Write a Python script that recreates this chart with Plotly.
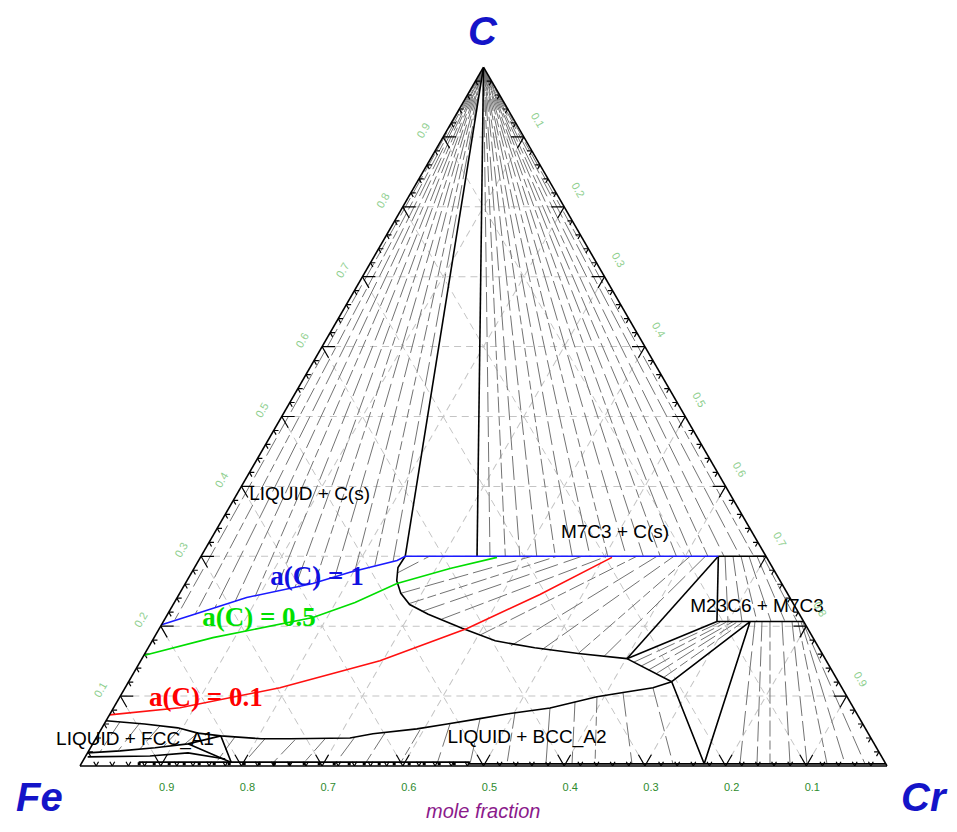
import plotly.graph_objects as go

# ---------------- data: compositions as (x_C, x_Cr); x_Fe = 1 - x_C - x_Cr ----------------
# carbon iso-activity lines
ac_1 = [(0.202, 0.000), (0.2195, 0.039), (0.241, 0.086), (0.261, 0.158), (0.277, 0.196),
        (0.294, 0.246), (0.300, 0.253), (0.300, 0.342), (0.300, 0.641)]
ac_05 = [(0.158, 0.000), (0.1836, 0.073), (0.2123, 0.1825), (0.2339, 0.2239), (0.2611, 0.2622),
         (0.2826, 0.3172), (0.2984, 0.3675)]
ac_01 = [(0.073, 0.000), (0.0832, 0.0823), (0.1119, 0.1918), (0.1506, 0.2964), (0.1966, 0.3813),
         (0.2453, 0.4473), (0.2984, 0.5100)]

# phase boundaries
liq_m7c3 = [(0.300, 0.253), (0.284, 0.252), (0.265, 0.260), (0.247, 0.274), (0.231, 0.293),
            (0.217, 0.323), (0.197, 0.375), (0.179, 0.425), (0.169, 0.479), (0.161, 0.537),
            (0.1535, 0.601)]
liq_m23 = [(0.1535, 0.601), (0.1205, 0.673)]
liq_bcc_fcc = [(0.1205, 0.673), (0.112, 0.654), (0.105, 0.6205), (0.099, 0.591), (0.083, 0.541),
               (0.075, 0.4955), (0.067, 0.458), (0.060, 0.425), (0.053, 0.391), (0.046, 0.340),
               (0.040, 0.3145), (0.039, 0.241), (0.039, 0.205), (0.043, 0.153), (0.047, 0.1225),
               (0.0545, 0.094), (0.060, 0.050), (0.0646, 0.000)]
fcc_solidus = [(0.0187, 0.000), (0.0215, 0.039), (0.026, 0.080), (0.0316, 0.118), (0.043, 0.153)]
fcc_bcc = [(0.013, 0.003), (0.0143, 0.0795), (0.0187, 0.1245), (0.010, 0.175)]
tri_fcc_bcc = [(0.0316, 0.118), (0.005, 0.185), (0.043, 0.153)]
c_liq = [(1.0, 0.0), (0.300, 0.253)]
c_m7c3 = [(1.0, 0.0), (0.300, 0.342)]
m7c3_edge = [(0.300, 0.641), (0.300, 0.700)]
m7_m23 = [(0.300, 0.641), (0.2066, 0.686)]
m23c6_line = [(0.2066, 0.686), (0.2066, 0.7934)]
liq_m7 = [(0.1535, 0.601), (0.300, 0.641)]
liq_m23b = [(0.1535, 0.601), (0.2066, 0.686)]
tri_liq_m23_bcc = [(0.1205, 0.673), (0.2066, 0.727), (0.003, 0.772), (0.1205, 0.673)]
bcc_low_upper = [(0.0055, 0.07), (0.0055, 0.48)]
bcc_low_bars = [(0.003, 0.07), (0.003, 0.48)]
bcc_low_solid = [(0.003, 0.48), (0.003, 0.997)]

# tie-lines: (end 1, end 2)
liq_c_ends = [(0.2095, 0.013), (0.2166, 0.0342), (0.2267, 0.054), (0.2353, 0.0745), (0.2425, 0.0957),
              (0.2482, 0.1175), (0.2554, 0.1387), (0.2626, 0.1599), (0.2712, 0.1804), (0.2798, 0.2009),
              (0.2869, 0.222), (0.2927, 0.2416)]
m7c3_c_ends = [0.358, 0.377, 0.395, 0.416, 0.439, 0.460, 0.482, 0.504, 0.527, 0.548, 0.569,
               0.589, 0.608, 0.628, 0.648, 0.668, 0.685]
liq_m7c3_ties = [((0.276, 0.255), (0.300, 0.283)), ((0.247, 0.274), (0.300, 0.410)),
                 ((0.232, 0.291), (0.300, 0.441)), ((0.221, 0.313), (0.300, 0.472)),
                 ((0.210, 0.343), (0.300, 0.503)), ((0.188, 0.403), (0.300, 0.540)),
                 ((0.172, 0.448), (0.300, 0.565)), ((0.166, 0.489), (0.300, 0.586)),
                 ((0.161, 0.537), (0.300, 0.606)), ((0.157, 0.571), (0.300, 0.625))]
liq_m23_ties = [((0.1485, 0.612), (0.2066, 0.692)), ((0.1430, 0.624), (0.2066, 0.699)),
                ((0.1375, 0.636), (0.2066, 0.706)), ((0.1320, 0.648), (0.2066, 0.712)),
                ((0.1266, 0.660), (0.2066, 0.719))]
m7_m23_ties = [((0.300, 0.6493), (0.2066, 0.6997)), ((0.300, 0.6592), (0.2066, 0.717)),
               ((0.300, 0.6691), (0.2066, 0.7356)), ((0.300, 0.679), (0.2066, 0.753)),
               ((0.300, 0.6889), (0.2066, 0.7703)), ((0.300, 0.6963), (0.2066, 0.7852))]
m23_bcc_ties = [((0.2066, 0.7331), (0.003, 0.8163)), ((0.2066, 0.7418), (0.003, 0.8374)),
                ((0.2066, 0.7517), (0.003, 0.8535)), ((0.2066, 0.7666), (0.003, 0.8783)),
                ((0.2066, 0.779), (0.003, 0.8994)), ((0.2066, 0.7864), (0.003, 0.9242)),
                ((0.2066, 0.7901), (0.003, 0.9465)), ((0.2066, 0.792), (0.003, 0.9712))]
liq_bcc_ties = [((0.0416, 0.1713), (0.003, 0.1658)), ((0.0387, 0.2098), (0.003, 0.2005)),
                ((0.0373, 0.2477), (0.003, 0.2364)), ((0.0387, 0.2842), (0.003, 0.2748)),
                ((0.0416, 0.320), (0.003, 0.3145)), ((0.0473, 0.3542), (0.003, 0.3517)),
                ((0.0516, 0.3955), (0.003, 0.395)), ((0.0603, 0.4284), (0.003, 0.4409)),
                ((0.0674, 0.462), (0.003, 0.4818)), ((0.076, 0.501), (0.003, 0.5276)),
                ((0.0832, 0.5408), (0.003, 0.5759)), ((0.0918, 0.5675), (0.003, 0.6082)),
                ((0.099, 0.5911), (0.003, 0.6367)), ((0.1047, 0.6205), (0.003, 0.6825)),
                ((0.1119, 0.654), (0.003, 0.7333))]
liq_fcc_ties = [((0.0631, 0.018), (0.0201, 0.0148)), ((0.0617, 0.0435), (0.0215, 0.0363)),
                ((0.0574, 0.0704), (0.0244, 0.0621)), ((0.0531, 0.0974), (0.0273, 0.0893)),
                ((0.0473, 0.1225), (0.0316, 0.1143))]

# labels: (text, x_C, x_Cr)
phase_labels = [("LIQUID + C(s)", 0.387, 0.091), ("M7C3 + C(s)", 0.333, 0.4965),
                ("M23C6 + M7C3", 0.2267, 0.7256), ("LIQUID + FCC_A1", 0.0373, 0.0495),
                ("LIQUID + BCC_A2", 0.0402, 0.5338)]
activity_labels = [("a(C) = 1", 0.2683, 0.1596, "#1010e0"), ("a(C) = 0.5", 0.2095, 0.1171, "#00e000"),
                   ("a(C) = 0.1", 0.0961, 0.108, "#ff0000")]

tick_vals = [0.1, 0.2, 0.3, 0.4, 0.5, 0.6, 0.7, 0.8, 0.9]
tick_text = ["0.1", "0.2", "0.3", "0.4", "0.5", "0.6", "0.7", "0.8", "0.9"]
minor_vals = [round(i * 0.02, 2) for i in range(1, 50) if i % 5]

# ---------------- page geometry (html body has an 8px margin) ----------------
OFF = 8
FIG_W, FIG_H = 957 - 2 * OFF, 832 - 2 * OFF


def px(x):
    return (x - OFF) / FIG_W


def py(y):
    return 1 - (y - OFF) / FIG_H


# ---------------- helpers ----------------
def lines_trace(segs, color, width=1.5, dash="solid"):
    a, b, c = [], [], []
    for seg in segs:
        for xc, xcr in seg:
            a.append(xc)
            c.append(xcr)
            b.append(max(0.0, 1 - xc - xcr))
        a.append(None); b.append(None); c.append(None)
    return go.Scatterternary(a=a, b=b, c=c, mode="lines",
                             line=dict(color=color, width=width, dash=dash),
                             hoverinfo="skip", showlegend=False)


def edge_ticks(vals, d):
    segs = []
    for v in vals:
        # left edge (Fe-C): x_C = v
        segs += [[(v, 0.0), (v, d)], [(v, 0.0), (v - d, d)]]
        # bottom edge (Fe-Cr): x_Cr = v
        segs += [[(0.0, v), (d, v)], [(0.0, v), (d, v - d)]]
        # right edge (C-Cr): x_Cr = v
        segs += [[(1 - v, v), (1 - v, v - d)], [(1 - v, v), (1 - v - d, v)]]
    return segs


fig = go.Figure()

# tie-lines (grey), drawn with a few dash rhythms so they look irregularly broken
tie_segs = [[(1.0, 0.0), p] for p in liq_c_ends]
tie_segs += [[(1.0, 0.0), (0.300, cr)] for cr in m7c3_c_ends]
for group in (liq_m7c3_ties, liq_m23_ties, m7_m23_ties, m23_bcc_ties, liq_bcc_ties, liq_fcc_ties):
    tie_segs += [[p, q] for p, q in group]
dash_styles = ["20px,5px", "16px,4px,9px,4px", "24px,6px"]
for k, ds in enumerate(dash_styles):
    fig.add_trace(lines_trace(tie_segs[k::3], "#737373", 1, ds))

# phase boundaries (black)
black = [liq_m7c3, liq_m23, liq_bcc_fcc, fcc_solidus, fcc_bcc, tri_fcc_bcc, c_liq, c_m7c3,
         m7c3_edge, m7_m23, m23c6_line, liq_m7, liq_m23b, tri_liq_m23_bcc, bcc_low_solid,
         bcc_low_upper]
fig.add_trace(lines_trace(black, "black", 1.6))
fig.add_trace(lines_trace([bcc_low_bars], "black", 3, "3px,12px"))

# axis tick marks
fig.add_trace(lines_trace(edge_ticks(tick_vals, 0.016), "black", 1.2))
fig.add_trace(lines_trace(edge_ticks(minor_vals, 0.006), "black", 1.2))

# activity lines
fig.add_trace(lines_trace([ac_1], "#1a1aff", 1.6))
fig.add_trace(lines_trace([ac_05], "#00dd00", 1.6))
fig.add_trace(lines_trace([ac_01], "#ff1010", 1.6))

# labels
fig.add_trace(go.Scatterternary(
    a=[l[1] for l in phase_labels], c=[l[2] for l in phase_labels],
    b=[1 - l[1] - l[2] for l in phase_labels], mode="text", text=[l[0] for l in phase_labels],
    textfont=dict(family="Arial", size=19, color="black"), cliponaxis=False,
    hoverinfo="skip", showlegend=False))
for txt, xc, xcr, col in activity_labels:
    fig.add_trace(go.Scatterternary(
        a=[xc], c=[xcr], b=[1 - xc - xcr], mode="text", text=[txt],
        textfont=dict(family="Liberation Serif", size=27, color=col, weight="bold"),
        cliponaxis=False, hoverinfo="skip", showlegend=False))

axis_common = dict(tickmode="array", tickvals=tick_vals, ticktext=tick_text,
                   ticks="outside", ticklen=12, tickcolor="rgba(0,0,0,0)", tickwidth=1,
                   showline=True, linecolor="black", linewidth=1.6,
                   showgrid=True, gridcolor="#c4c4c4", gridwidth=1, griddash="7px,5px",
                   min=0, title=dict(text=""))

fig.update_layout(
    width=FIG_W, height=FIG_H,
    margin=dict(l=0, r=0, t=0, b=0),
    paper_bgcolor="white",
    ternary=dict(
        sum=1, bgcolor="white",
        domain=dict(x=[px(80), px(887)], y=[py(766), py(67)]),
        aaxis=dict(**axis_common, tickangle=-60, tickfont=dict(family="Arial", size=11, color="#8fcf8f")),
        baxis=dict(**axis_common, tickangle=0, tickfont=dict(family="Arial", size=11, color="#2e8b2e")),
        caxis=dict(**axis_common, tickangle=60, tickfont=dict(family="Arial", size=11, color="#8fcf8f")),
    ),
    annotations=[
        dict(text="<b><i>C</i></b>", x=px(483), y=py(31), xref="paper", yref="paper",
             xanchor="center", yanchor="middle", showarrow=False,
             font=dict(family="Arial", size=40, color="#1414c8")),
        dict(text="<b><i>Fe</i></b>", x=px(40), y=py(797), xref="paper", yref="paper",
             xanchor="center", yanchor="middle", showarrow=False,
             font=dict(family="Arial", size=40, color="#1414c8")),
        dict(text="<b><i>Cr</i></b>", x=px(924), y=py(797), xref="paper", yref="paper",
             xanchor="center", yanchor="middle", showarrow=False,
             font=dict(family="Arial", size=40, color="#1414c8")),
        dict(text="<i>mole fraction</i>", x=px(483), y=py(811), xref="paper", yref="paper",
             xanchor="center", yanchor="middle", showarrow=False,
             font=dict(family="Arial", size=20, color="#8b1a8b")),
    ],
)

fig.write_html("out.html")
